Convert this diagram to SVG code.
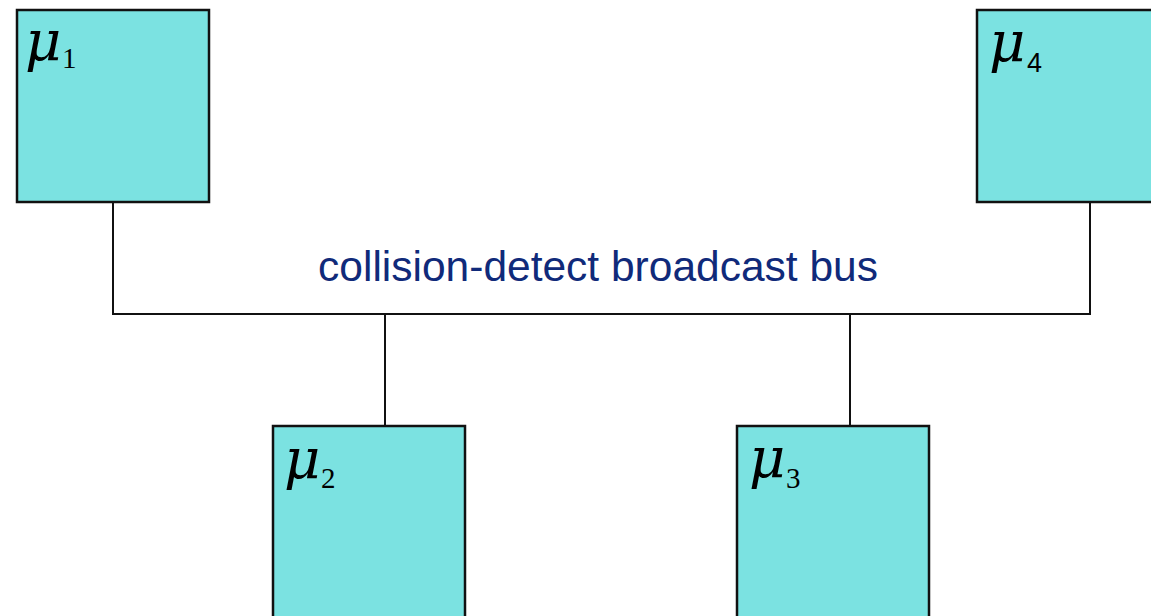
<svg xmlns="http://www.w3.org/2000/svg" width="1151" height="616" viewBox="0 0 1151 616">
<style>
.box{fill:#7be2e1;stroke:#111;stroke-width:2.5}
.wire{stroke:#111;stroke-width:2;fill:none}
.mu{font-family:"DejaVu Serif",serif;font-style:italic;font-size:56px;fill:#000}
.sub{font-family:"Liberation Serif",serif;font-size:29px;fill:#000}
.subs{font-family:"Liberation Sans",sans-serif;font-size:27px;fill:#000}
.lbl{font-family:"Liberation Sans",Arial,sans-serif;font-size:42.5px;fill:#102a7a}
</style>
<rect width="1151" height="616" fill="#fff"/>
<g id="connectors">
<polyline class="wire" points="113,202 113,314 1090,314 1090,202"/>
<line class="wire" x1="385" y1="314" x2="385" y2="426"/>
<line class="wire" x1="850" y1="314" x2="850" y2="426"/>
<text class="lbl" x="598" y="281" text-anchor="middle">collision-detect broadcast bus</text>
</g>
<g id="node-mu1">
<rect class="box" x="17" y="10" width="192" height="192"/>
<text class="mu" x="25" y="60">μ</text><text class="sub" x="62" y="68">1</text>
</g>
<g id="node-mu4">
<rect class="box" x="977" y="10" width="192" height="192"/>
<text class="mu" x="989" y="61">μ</text><text class="subs" x="1027" y="72">4</text>
</g>
<g id="node-mu2">
<rect class="box" x="273" y="426" width="192" height="200"/>
<text class="mu" x="284" y="478">μ</text><text class="sub" x="321" y="488">2</text>
</g>
<g id="node-mu3">
<rect class="box" x="737" y="426" width="192" height="200"/>
<text class="mu" x="749" y="477">μ</text><text class="sub" x="786" y="488">3</text>
</g>
</svg>
